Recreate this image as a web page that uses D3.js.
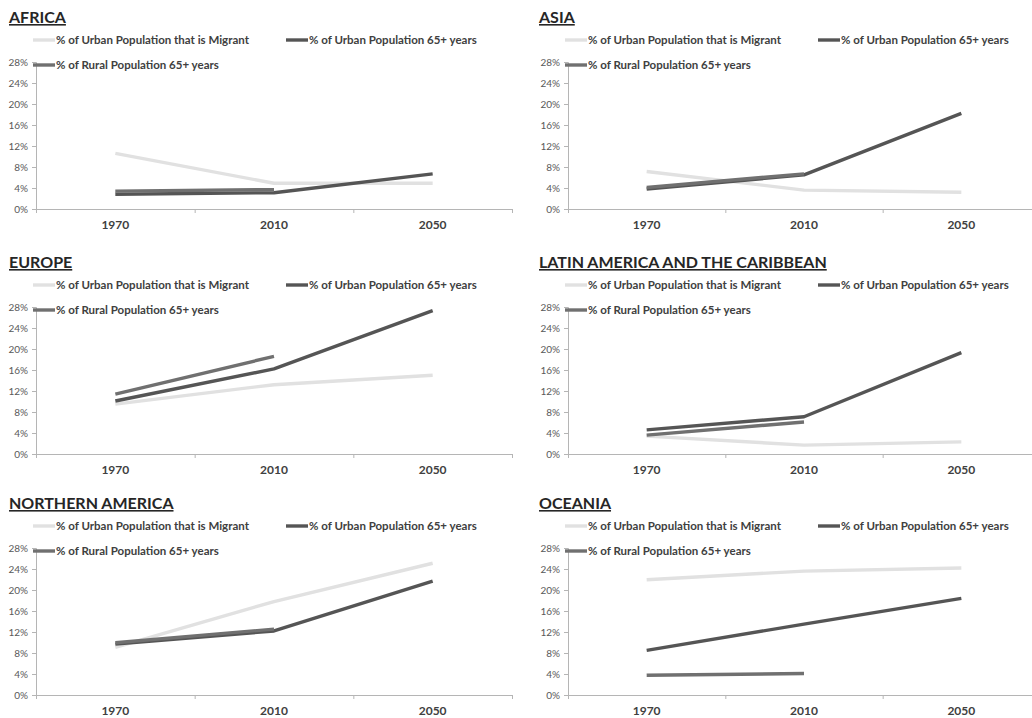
<!DOCTYPE html>
<html>
<head>
<meta charset="utf-8">
<script src="https://cdn.jsdelivr.net/npm/d3@7"></script>
<style>
  html, body { margin: 0; padding: 0; background: #fff; }
  svg { display: block; }
  text { font-family: Lato, "Open Sans", sans-serif; }
</style>
</head>
<body>
<svg id="chart" width="1032" height="718"></svg>
<script>
// ---- data ----
const years = ["1970", "2010", "2050"];
const regions = ["AFRICA", "ASIA", "EUROPE", "LATIN AMERICA AND THE CARIBBEAN", "NORTHERN AMERICA", "OCEANIA"];
const seriesNames = ["% of Urban Population that is Migrant", "% of Urban Population 65+ years", "% of Rural Population 65+ years"];
const migrant = [
  [10.6, 4.9, 4.9],
  [7.15, 3.6, 3.2],
  [9.5, 13.2, 15.0],
  [3.4, 1.7, 2.3],
  [9.05, 17.8, 25.1],
  [21.95, 23.6, 24.2]
];
const urban65 = [
  [2.8, 3.1, 6.7],
  [3.8, 6.5, 18.2],
  [10.1, 16.2, 27.3],
  [4.6, 7.1, 19.3],
  [9.7, 12.2, 21.7],
  [8.5, 13.5, 18.4]
];
const rural65 = [
  [3.4, 3.7],
  [4.1, 6.7],
  [11.4, 18.6],
  [3.6, 6.1],
  [9.95, 12.55],
  [3.75, 4.1]
];
const yTicks = [0, 4, 8, 12, 16, 20, 24, 28];

// ---- layout / style ----
const colors = ["#e1e1e1", "#555555", "#707070"];
const colX = [36, 568];
const colW = [476, 472];
const rowTop = [62, 307, 548];
const plotH = 147;
const titleX = [9, 539];

const svg = d3.select("#chart");

regions.forEach((name, i) => {
  const col = i % 2, row = Math.floor(i / 2);
  const x0 = colX[col], top = rowTop[row], bottom = top + plotH;
  const g = svg.append("g");

  const x = d3.scaleBand().domain(years).range([x0, x0 + colW[col]]).padding(0);
  const y = d3.scaleLinear().domain([0, 28]).range([bottom, top]);

  // title
  g.append("text")
    .attr("x", titleX[col]).attr("y", top - 39)
    .attr("font-size", 16).attr("font-weight", 700)
    .attr("fill", "#262626")
    .attr("text-decoration", "underline")
    .text(name);

  // y axis
  const ya = g.append("g").attr("transform", `translate(${x0},0)`)
    .call(d3.axisLeft(y).tickValues(yTicks).tickFormat(d => d + "%").tickSize(4).tickPadding(4));
  ya.select(".domain").attr("stroke", "#b5b5b5");
  ya.selectAll(".tick line").attr("stroke", "#b5b5b5");
  ya.selectAll(".tick text").attr("fill", "#595959").attr("font-size", 10)
    .attr("font-family", "Lato, sans-serif");

  // x axis: boundary ticks
  const xb = d3.scaleLinear().domain([0, years.length]).range([x0, x0 + colW[col]]);
  const xa = g.append("g").attr("transform", `translate(0,${bottom})`)
    .call(d3.axisBottom(xb).tickValues(d3.range(years.length + 1)).tickFormat("").tickSize(4).tickSizeOuter(0));
  xa.select(".domain").attr("stroke", "#b5b5b5");
  xa.selectAll(".tick line").attr("stroke", "#b5b5b5");
  // category labels
  const xl = g.append("g").attr("transform", `translate(0,${bottom})`)
    .call(d3.axisBottom(x).tickSize(0).tickPadding(11));
  xl.select(".domain").remove();
  xl.selectAll(".tick text").attr("fill", "#404040").attr("font-size", 12)
    .attr("font-weight", 700).attr("font-family", "Lato, sans-serif");

  // lines
  const line = d3.line()
    .x((d, j) => x(years[j]) + x.bandwidth() / 2)
    .y(d => y(d));
  [migrant[i], urban65[i], rural65[i]].forEach((vals, s) => {
    g.append("path")
      .attr("d", line(vals))
      .attr("fill", "none")
      .attr("stroke", colors[s])
      .attr("stroke-width", 3.4)
      .attr("stroke-linejoin", "round");
  });

  // legend
  const legPos = [
    [x0 - 3, top - 22],
    [x0 + 250, top - 22],
    [x0 - 3, top + 3]
  ];
  seriesNames.forEach((nm, s) => {
    const [lx, ly] = legPos[s];
    g.append("line")
      .attr("x1", lx).attr("x2", lx + 22)
      .attr("y1", ly).attr("y2", ly)
      .attr("stroke", colors[s]).attr("stroke-width", 3.4);
    g.append("text")
      .attr("x", lx + 23).attr("y", ly + 4)
      .attr("font-size", 11.5).attr("font-weight", 700)
      .attr("fill", "#404040")
      .text(nm);
  });
});
</script>
</body>
</html>
